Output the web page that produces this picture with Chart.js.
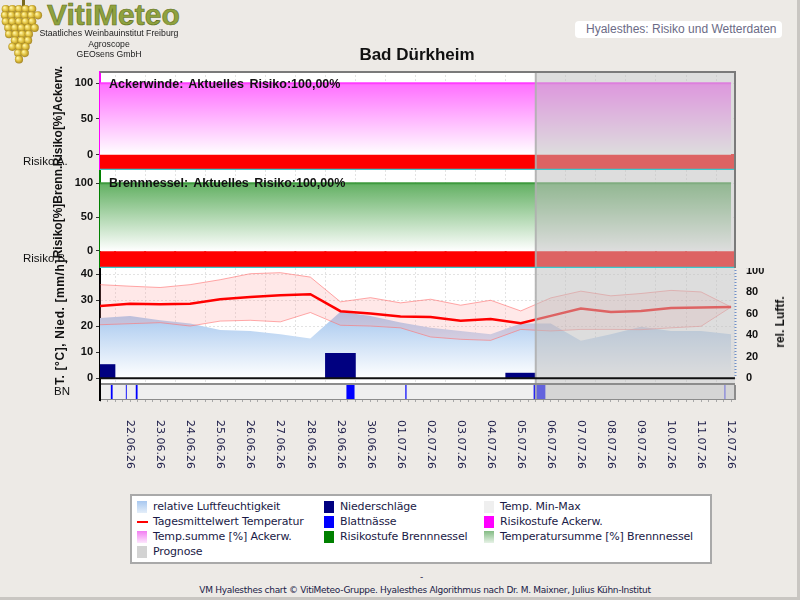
<!DOCTYPE html>
<html lang="de">
<head>
<meta charset="utf-8">
<title>Hyalesthes: Risiko und Wetterdaten – Bad Dürkheim</title>
<script src="https://cdn.jsdelivr.net/npm/chart.js@4.4.1/dist/chart.umd.min.js"></script>
<style>
  html, body { margin: 0; padding: 0; }
  body {
    position: relative; width: 800px; height: 600px; overflow: hidden;
    background: #EDEAE6; font-family: Arial, 'Liberation Sans', sans-serif; color: #111;
  }
  .abs   { position: absolute; white-space: nowrap; }
  canvas { position: absolute; left: 0; }

  /* ── Kopfbereich ─────────────────────────────── */
  #logo-text  { left: 47px; top: -2px; font: bold 30px Arial, 'Liberation Sans', sans-serif;
                color: #8FA23E; -webkit-text-stroke: 0.6px #5C6E1E; }
  .logo-zeile { left: 36px; width: 146px; text-align: center; font-size: 8.7px; line-height: 10px; color: #222; }
  #titel      { left: 300px; width: 234px; top: 46px; text-align: center;
                font: bold 17px Arial, 'Liberation Sans', sans-serif; line-height: 17px; }
  #kopf       { left: 575px; top: 21px; width: 207px; height: 17px; background: #fff; border-radius: 4px;
                font-size: 12px; line-height: 17px; color: #6B6B86; text-indent: 11px; }

  /* ── Achsentitel / Beschriftungen ─────────────── */
  .vtitel     { position: absolute; white-space: nowrap; transform: translate(-50%, -50%) rotate(-90deg);
                font: bold 12px Arial, 'Liberation Sans', sans-serif; line-height: 12px; }
  .seitlich   { font-size: 11.5px; line-height: 11px; }
  .panel-text { font: bold 12.5px Arial, 'Liberation Sans', sans-serif; word-spacing: 2px; line-height: 13px; }

  /* ── Legende ─────────────────────────────────── */
  #legende    { left: 130px; top: 494px; width: 578px; height: 66px; background: #fff; border: 2px solid #A9A9A9; }
  .leg        { position: absolute; white-space: nowrap; font: 11px 'DejaVu Sans', Verdana, sans-serif;
                line-height: 12px; color: #1A1A46; letter-spacing: -0.15px; }
  .sw         { position: absolute; left: -16px; top: 0; width: 10px; height: 12px; }

  #fuss       { left: 100px; width: 650px; top: 585px; text-align: center;
                font: 9px 'DejaVu Sans', Verdana, sans-serif; letter-spacing: -0.3px; color: #1A1A46; }
  #strich     { left: 420px; top: 572px; font: 9px 'DejaVu Sans', sans-serif; color: #1A1A46; }
  #rand-r     { left: 797px; top: 0; width: 3px; height: 600px; background: #C9C6C2; }
  #rand-u     { left: 0; top: 597px; width: 800px; height: 3px; background: #C9C6C2; }
</style>
</head>
<body>

<canvas id="trauben" width="44" height="66" style="top:0"></canvas>
<div class="abs" id="logo-text">VitiMeteo</div>
<div class="abs logo-zeile" style="top:28px">Staatliches Weinbauinstitut Freiburg</div>
<div class="abs logo-zeile" style="top:39px">Agroscope</div>
<div class="abs logo-zeile" style="top:49px">GEOsens GmbH</div>
<div class="abs" id="kopf">Hyalesthes: Risiko und Wetterdaten</div>
<div class="abs" id="titel">Bad Dürkheim</div>

<canvas id="c-acker" width="800" height="99"  style="top:71px"></canvas>
<canvas id="c-brenn" width="800" height="98"  style="top:170px"></canvas>
<canvas id="c-temp"  width="800" height="115" style="top:268px"></canvas>
<canvas id="c-bn"    width="800" height="92"  style="top:383px"></canvas>

<div class="abs panel-text" style="left:109px; top:78px">Ackerwinde: Aktuelles Risiko:100,00%</div>
<div class="abs panel-text" style="left:109px; top:177px">Brennnessel: Aktuelles Risiko:100,00%</div>

<div class="vtitel" style="left:58px; top:116px">Risiko[%]Ackerw.</div>
<div class="vtitel" style="left:58px; top:212px">Risiko[%]Brenn.</div>
<div class="vtitel" style="left:60px; top:322px; letter-spacing:0.6px">T. [°C], Nied. [mm/h]</div>
<div class="vtitel" style="left:780px; top:322px">rel. Luftf.</div>
<div class="abs seitlich" style="left:23px; top:156px">Risiko A.</div>
<div class="abs seitlich" style="left:23px; top:253px">Risiko B.</div>
<div class="abs seitlich" style="left:54px; top:386px">BN</div>

<div class="abs" id="legende"></div>
<div class="abs" id="strich">-</div>
<div class="abs" id="fuss">VM Hyalesthes chart © VitiMeteo-Gruppe. Hyalesthes Algorithmus nach Dr. M. Maixner, Julius Kühn-Institut</div>
<div class="abs" id="rand-r"></div>
<div class="abs" id="rand-u"></div>

<script>
/* ============================================================
   Hyalesthes – Risiko und Wetterdaten, Bad Dürkheim
   4 gestapelte Chart.js-Diagramme auf gemeinsamer Tagesachse
   ============================================================ */

/* ── Daten ────────────────────────────────────────────────── */
const tage = ['21.06.26', '22.06.26', '23.06.26', '24.06.26', '25.06.26', '26.06.26',
              '27.06.26', '28.06.26', '29.06.26', '30.06.26', '01.07.26', '02.07.26',
              '03.07.26', '04.07.26', '05.07.26', '06.07.26', '07.07.26', '08.07.26',
              '09.07.26', '10.07.26', '11.07.26', '12.07.26'];

const tempMittel  = [27.8, 28.7, 28.5, 28.7, 30.4, 31.3, 31.9, 32.3, 25.8, 24.9, 23.8,
                     23.6, 22.1, 22.8, 21.2, 24.0, 26.8, 25.5, 25.9, 27.0, 27.2, 27.4];
const tempMax     = [36.0, 35.4, 34.9, 36.0, 37.9, 40.2, 40.6, 38.9, 29.4, 31.0, 29.0,
                     30.4, 28.1, 30.0, 25.9, 30.9, 33.5, 31.7, 32.6, 33.8, 33.2, 27.4];
const tempMin     = [20.6, 21.0, 21.4, 20.1, 22.0, 22.3, 21.7, 25.3, 20.4, 20.1, 19.4,
                     15.9, 15.0, 14.6, 18.8, 18.2, 18.8, 18.8, 18.7, 19.4, 20.0, 27.4];
const luftfeuchte = [56, 58, 54, 51, 45, 44, 41, 37, 62, 58, 52,
                     47, 44, 41, 51, 51, 35, 41, 48, 44, 44, 41];
const niederschlag = [5.3, 0, 0, 0, 0, 0, 0, 0, 9.6, 0, 0,
                      0, 0, 0, 2.0, 0, 0, 0, 0, 0, 0, 0];

/* Temperatursumme in % (Ackerwinde / Brennnessel) */
const tempSummeAckerw = [100, 100, 100, 100, 100, 100, 100, 100, 100, 100, 100,
                         100, 100, 100, 100, 100, 100, 100, 100, 100, 100, 100];
const tempSummeBrenn  = [100, 100, 100, 100, 100, 100, 100, 100, 100, 100, 100,
                         100, 100, 100, 100, 100, 100, 100, 100, 100, 100, 100];

/* Risikostufe 0..3 (3 = hoch / rot) */
const risikoAckerw = [3, 3, 3, 3, 3, 3, 3, 3, 3, 3, 3, 3, 3, 3, 3, 3, 3, 3, 3, 3, 3, 3];
const risikoBrenn  = [3, 3, 3, 3, 3, 3, 3, 3, 3, 3, 3, 3, 3, 3, 3, 3, 3, 3, 3, 3, 3, 3];

/* Blattnässe-Perioden, in Tagen ab 21.06.26 00:00 */
const blattnaesseVon = [0.36, 0.86, 1.19, 8.20, 10.16, 14.43, 20.78];
const blattnaesseBis = [0.42, 0.89, 1.25, 8.47, 10.20, 14.82, 20.81];

const prognoseAb = 14.5;   // Beginn der Prognose (Tagesindex)

/* ── Layout-Konstanten ────────────────────────────────────── */
const PLOT_LINKS  = 100;
const PLOT_RECHTS = 65;    // Abstand rechter Rand
const X_MIN = 0, X_MAX = 21.13;
const stufenFarben = ['#00B000', '#FFFF00', '#FFA500', '#FF0000'];
const gitterFarbe  = 'rgba(200, 200, 200, 0.5)';
const tickSchrift  = { family: "Arial, 'Liberation Sans', sans-serif", size: 11, weight: 'bold' };

Chart.defaults.animation = false;
Chart.defaults.responsive = false;
Chart.defaults.plugins.legend.display = false;
Chart.defaults.plugins.tooltip.enabled = false;

const punkte = werte => werte.map((v, i) => ({ x: i, y: v }));

/* Vertikaler Verlauf zwischen zwei Achsenwerten */
function verlauf(achse, wertOben, wertUnten, farbeOben, farbeUnten) {
  return ctx => {
    const chart = ctx.chart;
    if (!chart.chartArea) return farbeUnten;
    const s = chart.scales[achse];
    const g = chart.ctx.createLinearGradient(0, s.getPixelForValue(wertOben), 0, s.getPixelForValue(wertUnten));
    g.addColorStop(0, farbeOben);
    g.addColorStop(1, farbeUnten);
    return g;
  };
}

/* Gemeinsame Tagesachse (ohne Beschriftung) */
function xAchse() {
  return {
    type: 'linear', min: X_MIN, max: X_MAX, offset: false,
    ticks : { display: false, stepSize: 1, includeBounds: false },
    grid  : { color: gitterFarbe, drawTicks: false },
    border: { display: false, dash: [2, 2] },
    afterFit: s => { s.height = 0; s.paddingLeft = 0; s.paddingRight = 0; },
  };
}

function yLinks(min, max, schritt, farbe) {
  return {
    position: 'left', min, max,
    ticks : { stepSize: schritt, includeBounds: false, color: '#111', padding: 3, font: tickSchrift },
    grid  : { color: gitterFarbe, tickColor: '#333', tickLength: 4 },
    border: { color: farbe, width: 2, dash: [2, 2] },
    afterFit: s => { s.width = PLOT_LINKS; s.paddingTop = 0; s.paddingBottom = 0; },
  };
}

/* Risikoband unter der Temperatursumme */
function risikoBand(stufen, oben, unten) {
  return {
    type: 'bar',
    data: stufen.map((s, i) => ({ x: i, y: [oben, unten] })),
    backgroundColor: ctx => stufenFarben[stufen[ctx.dataIndex]],
    barPercentage: 1, categoryPercentage: 1, inflateAmount: 1, clip: 0,
  };
}

/* ── Plugins ──────────────────────────────────────────────── */
const weissPlugin = {
  id: 'weiss',
  beforeDraw(chart) {
    const { ctx, chartArea: a } = chart;
    ctx.save();
    ctx.fillStyle = '#FFFFFF';
    ctx.fillRect(a.left, a.top, a.right - a.left, a.bottom - a.top);
    ctx.restore();
  },
};

const prognosePlugin = {
  id: 'prognose',
  afterDatasetsDraw(chart) {
    const { ctx, chartArea: { top, bottom, right }, scales: { x } } = chart;
    const x0 = x.getPixelForValue(prognoseAb);
    ctx.save();
    ctx.fillStyle = 'rgba(190, 190, 190, 0.52)';
    ctx.fillRect(x0, top, right - x0, bottom - top);
    ctx.strokeStyle = 'rgba(175, 175, 175, 0.9)';
    ctx.lineWidth = 2;
    ctx.beginPath(); ctx.moveTo(x0, top); ctx.lineTo(x0, bottom); ctx.stroke();
    ctx.restore();
  },
};

/* Rahmenlinien und Sonderlinien je Diagramm */
const rahmenPlugin = {
  id: 'rahmen',
  afterDraw(chart, args, o) {
    const { ctx, chartArea: a } = chart;
    const linie = (x1, y1, x2, y2, farbe, breite, dash) => {
      ctx.save();
      ctx.strokeStyle = farbe; ctx.lineWidth = breite; ctx.setLineDash(dash || []);
      ctx.beginPath(); ctx.moveTo(x1, y1); ctx.lineTo(x2, y2); ctx.stroke();
      ctx.restore();
    };
    if (o.null) {
      const y0 = chart.scales.y.getPixelForValue(0);
      linie(a.left, y0, a.right, y0, '#111', 2);
    }
    if (o.oben)   linie(a.left, a.top + 1, a.right + 1, a.top + 1, o.oben, 2);
    if (o.unten)  linie(a.left, a.bottom - 0.5, a.right, a.bottom - 0.5, o.unten, 1.5);
    if (o.rechts) linie(a.right, a.top, a.right, a.bottom, o.rechts, 2);
    if (o.rechtsPunkte) {
      const y0 = chart.scales.y.getPixelForValue(0);
      linie(a.right + 0.5, a.top + 2, a.right + 0.5, y0, o.rechtsPunkte, 2, [1, 2]);
    }
    if (o.links)  linie(a.left, a.top - 2, a.left, a.bottom + 2, o.links, 2);
  },
};

/* Streifen-Hintergrund + gedrehte Datumsbeschriftung */
const blattnaessePlugin = {
  id: 'bnStreifen',
  beforeDatasetsDraw(chart) {
    const { ctx, chartArea: a } = chart;
    ctx.save();
    ctx.fillStyle = '#EFEFEF';
    ctx.fillRect(a.left, a.top, a.right - a.left, a.bottom - a.top);
    ctx.strokeStyle = '#8C8C8C'; ctx.lineWidth = 2;
    ctx.beginPath(); ctx.moveTo(a.left, a.top - 1); ctx.lineTo(a.right, a.top - 1); ctx.stroke();
    ctx.restore();
  },
  afterDraw(chart) {
    const { ctx, chartArea: a, scales: { x } } = chart;
    ctx.save();
    ctx.font = "11px 'DejaVu Sans', Verdana, sans-serif";
    ctx.fillStyle = '#1C1C48';
    ctx.textAlign = 'left';
    ctx.textBaseline = 'middle';
    tage.forEach((t, i) => {
      if (i === 0) return;
      ctx.save();
      ctx.translate(x.getPixelForValue(i), a.bottom + 21);
      ctx.rotate(Math.PI / 2);
      ctx.fillText(t, 0, 0);
      ctx.restore();
    });
    ctx.restore();
  },
};

/* ── Panel 1: Ackerwinde ──────────────────────────────────── */
new Chart(document.getElementById('c-acker'), {
  type: 'line',
  data: {
    datasets: [
      {
        label: 'Temp.summe [%] Ackerw.',
        data: punkte(tempSummeAckerw),
        borderColor: '#FF3CFF', borderWidth: 2, pointRadius: 0, tension: 0,
        fill: 'origin',
        backgroundColor: verlauf('y', 100, 0, '#FF6EFF', '#FFFFFF'),
      },
      { label: 'Risikostufe Ackerw.', ...risikoBand(risikoAckerw, -0.4, -19) },
    ],
  },
  options: {
    layout: { padding: { left: 0, right: PLOT_RECHTS, top: 0, bottom: 0 } },
    scales: { x: xAchse(), y: yLinks(-21.4, 117.2, 50, '#FF00FF') },
    plugins: { rahmen: { oben: '#7A7A7A', rechts: '#7A7A7A', unten: '#3CC8CC' } },
  },
  plugins: [weissPlugin, prognosePlugin, rahmenPlugin],
});

/* ── Panel 2: Brennnessel ─────────────────────────────────── */
new Chart(document.getElementById('c-brenn'), {
  type: 'line',
  data: {
    datasets: [
      {
        label: 'Temperatursumme [%] Brennnessel',
        data: punkte(tempSummeBrenn),
        borderColor: '#3E9A3E', borderWidth: 2, pointRadius: 0, tension: 0,
        fill: 'origin',
        backgroundColor: verlauf('y', 100, 0, '#62B062', '#FFFFFF'),
      },
      { label: 'Risikostufe Brennnessel', ...risikoBand(risikoBrenn, -1.9, -24.7) },
    ],
  },
  options: {
    layout: { padding: { left: 0, right: PLOT_RECHTS, top: 0, bottom: 0 } },
    scales: { x: xAchse(), y: yLinks(-25.2, 119.6, 50, '#008000') },
    plugins: { rahmen: { rechts: '#7A7A7A', unten: '#3CC8CC' } },
  },
  plugins: [weissPlugin, prognosePlugin, rahmenPlugin],
});

/* ── Panel 3: Temperatur, Niederschlag, Luftfeuchte ───────── */
new Chart(document.getElementById('c-temp'), {
  type: 'line',
  data: {
    datasets: [
      {
        label: 'Tagesmittelwert Temperatur',
        data: punkte(tempMittel), yAxisID: 'y', order: 1,
        borderColor: '#FF0000', borderWidth: 2.5, pointRadius: 0, tension: 0,
      },
      {
        label: 'Temp. Max',
        data: punkte(tempMax), yAxisID: 'y', order: 2,
        borderColor: 'rgba(255, 110, 110, 0.6)', borderWidth: 1, pointRadius: 0, tension: 0,
        fill: '+1', backgroundColor: 'rgba(255, 150, 150, 0.22)',
      },
      {
        label: 'Temp. Min',
        data: punkte(tempMin), yAxisID: 'y', order: 3,
        borderColor: 'rgba(255, 110, 110, 0.6)', borderWidth: 1, pointRadius: 0, tension: 0,
      },
      {
        type: 'bar', label: 'Niederschläge',
        data: punkte(niederschlag), yAxisID: 'y', order: 4,
        backgroundColor: '#000080', barPercentage: 1, categoryPercentage: 1, clip: 0,
      },
      {
        label: 'relative Luftfeuchtigkeit',
        data: punkte(luftfeuchte), yAxisID: 'yR', order: 5,
        borderWidth: 0, pointRadius: 0, tension: 0,
        fill: 'origin',
        backgroundColor: verlauf('yR', 62, 0, '#A4C6EE', '#FFFFFF'),
      },
    ],
  },
  options: {
    layout: { padding: 0 },
    scales: {
      x: xAchse(),
      y: yLinks(-1.8, 42.4, 10, '#000000'),
      yR: {
        position: 'right', min: -4.4, max: 102.6,
        ticks : { stepSize: 20, includeBounds: false, color: '#111', padding: 11, font: tickSchrift },
        grid  : { drawOnChartArea: false, drawTicks: false },
        border: { display: false },
        afterFit: s => { s.width = PLOT_RECHTS; s.paddingTop = 0; s.paddingBottom = 0; },
      },
    },
    plugins: { rahmen: { null: true, rechtsPunkte: '#6F8FC8' } },
  },
  plugins: [weissPlugin, prognosePlugin, rahmenPlugin],
});

/* ── Panel 4: Blattnässe-Streifen + Datumsachse ───────────── */
new Chart(document.getElementById('c-bn'), {
  type: 'bar',
  data: {
    datasets: [{
      label: 'Blattnässe',
      data: blattnaesseVon.map((v, i) => ({ y: 0.5, x: [v, blattnaesseBis[i]] })),
      backgroundColor: '#0000FF', barPercentage: 1, categoryPercentage: 1, inflateAmount: 0,
    }],
  },
  options: {
    indexAxis: 'y',
    layout: { padding: { left: PLOT_LINKS, right: PLOT_RECHTS, top: 2, bottom: 0 } },
    scales: {
      x: {
        type: 'linear', min: X_MIN, max: X_MAX, position: 'bottom',
        ticks : { display: false, stepSize: 0.25, includeBounds: false },
        grid  : { drawOnChartArea: false, drawTicks: true, tickLength: 3, tickColor: '#A8A8A8' },
        border: { color: '#8C8C8C', width: 2 },
        afterFit: s => { s.height = 76; s.paddingLeft = 0; s.paddingRight = 0; },
      },
      y: { type: 'linear', min: 0, max: 1, display: false, ticks: { stepSize: 1 } },
    },
    plugins: { rahmen: { links: '#000000', rechts: '#8C8C8C' } },
  },
  plugins: [blattnaessePlugin, prognosePlugin, rahmenPlugin],
});

/* ── Legende (HTML) ───────────────────────────────────────── */
const legendeSpalten = [21, 208, 368];
const legendeZeilen  = [5, 20, 35, 50];
const legendeEintraege = [
  ['relative Luftfeuchtigkeit',   'linear-gradient(#A8C8F0, #E4EEF9)', 0, 0],
  ['Tagesmittelwert Temperatur',  'line',                              0, 1],
  ['Temp.summe [%] Ackerw.',      'linear-gradient(#F27EF2, #FDE6FD)', 0, 2],
  ['Prognose',                    '#D3D3D3',                           0, 3],
  ['Niederschläge',               '#000080',                           1, 0],
  ['Blattnässe',                  '#0000FF',                           1, 1],
  ['Risikostufe Brennnessel',     '#008000',                           1, 2],
  ['Temp. Min-Max',               '#EFEFEF',                           2, 0],
  ['Risikostufe Ackerw.',         '#FF00FF',                           2, 1],
  ['Temperatursumme [%] Brennnessel', 'linear-gradient(#84BC84, #E6F2E6)', 2, 2],
];
const legende = document.getElementById('legende');
legendeEintraege.forEach(([text, farbe, sp, ze]) => {
  const el = document.createElement('div');
  el.className = 'leg';
  el.style.left = legendeSpalten[sp] + 'px';
  el.style.top  = legendeZeilen[ze] + 'px';
  const sw = document.createElement('span');
  sw.className = 'sw';
  if (farbe === 'line') {
    sw.style.background = '#FF0000'; sw.style.height = '2px'; sw.style.top = '5px'; sw.style.width = '11px';
  } else {
    sw.style.background = farbe;
  }
  el.appendChild(sw);
  el.appendChild(document.createTextNode(text));
  legende.appendChild(el);
});

/* ── Logo-Traube ──────────────────────────────────────────── */
(function zeichneTraube() {
  const c = document.getElementById('trauben').getContext('2d');
  const reihen = [5, 6, 5, 5, 4, 3, 3, 2, 1];
  c.fillStyle = '#7A6A20';
  c.fillRect(22, 0, 3, 6);
  reihen.forEach((n, r) => {
    const y  = 9 + r * 6.3;
    const x0 = 20 - (n - 1) * 3.3 + (r % 2 ? 1.5 : -1);
    for (let k = 0; k < n; k++) {
      const x = x0 + k * 6.6;
      const g = c.createRadialGradient(x - 1.5, y - 1.5, 0.5, x, y, 4.4);
      g.addColorStop(0, '#FFF3A0');
      g.addColorStop(0.55, '#DDBD3A');
      g.addColorStop(1, '#9C7E22');
      c.fillStyle = g;
      c.beginPath(); c.arc(x, y, 4.1, 0, Math.PI * 2); c.fill();
    }
  });
})();
</script>
</body>
</html>
